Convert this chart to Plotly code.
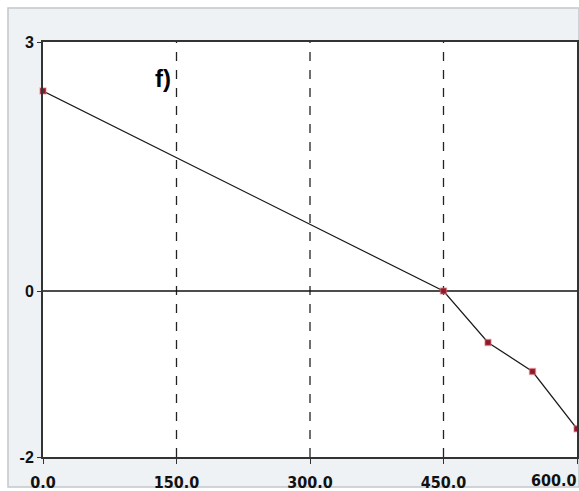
import plotly.graph_objects as go

x_vals = [0, 450, 500, 550, 600]
y_vals = [2.41, 0.0, -0.62, -0.97, -1.66]
x_ticks = [0, 150, 300, 450, 600]
x_tick_labels = ["0.0", "150.0", "300.0", "450.0", "600.0"]
y_ticks = [-2, 0, 3]
y_tick_labels = ["-2", "0", "3"]
grid_x = [150, 300, 450]

fig = go.Figure()

fig.add_trace(go.Scatter(
    x=x_vals, y=y_vals, mode="lines+markers",
    line=dict(color="#1a1a1a", width=1.2),
    marker=dict(symbol="square", size=6, color="#8b1a2a",
                line=dict(color="rgba(230,120,130,0.5)", width=1.5)),
    showlegend=False, hoverinfo="skip", cliponaxis=False))

PW, PH = 534, 415
XFONT = dict(family="Liberation Sans Narrow, DejaVu Sans Condensed, Arial Narrow, sans-serif",
             size=16, color="#111111")
shapes = []
# outer panel
shapes.append(dict(type="rect", xref="paper", yref="paper",
                   x0=-35/PW, x1=1 + 2/PW, y0=-30/PH, y1=1 + 34/PH,
                   fillcolor="#eef2f5", line=dict(color="#c4c8cc", width=1.5),
                   layer="below"))
shapes.append(dict(type="rect", xref="paper", yref="paper", x0=0, x1=1, y0=0, y1=1,
                   fillcolor="white", line=dict(width=0), layer="below"))
for gx in grid_x:
    shapes.append(dict(type="line", xref="x", yref="paper", x0=gx, x1=gx, y0=0, y1=1,
                       line=dict(color="#222222", width=1.3, dash="dash"), layer="below"))
shapes.append(dict(type="line", xref="paper", yref="y", x0=0, x1=1, y0=0, y1=0,
                   line=dict(color="#111111", width=1.5), layer="below"))

# last tick label is drawn flush with the right edge, as in the reference
tick_text = [f"<b>{t}</b>" for t in x_tick_labels[:-1]] + [""]
annotations = [
    dict(text="<b>f)</b>", xref="x", yref="y", x=135, y=2.56, showarrow=False,
         font=dict(family="Liberation Sans, Arial", size=24, color="black")),
    dict(text=f"<b>{x_tick_labels[-1]}</b>", xref="paper", yref="paper",
         x=1 + 2/PW, y=-23/PH, xanchor="right", yanchor="middle",
         showarrow=False, font=XFONT),
]

fig.update_layout(
    width=579, height=491,
    margin=dict(l=43, r=2, t=42, b=34, autoexpand=False),
    paper_bgcolor="white", plot_bgcolor="rgba(0,0,0,0)",
    shapes=shapes,
    annotations=annotations,
    xaxis=dict(range=[0, 600], tickvals=x_ticks, ticktext=tick_text,
               showgrid=False, zeroline=False, showline=True, linecolor="#333333", linewidth=2,
               mirror=True, ticks="outside", ticklen=5, tickcolor="#333333",
               ticklabelstandoff=5, tickfont=XFONT),
    yaxis=dict(range=[-2, 3], tickvals=y_ticks, ticktext=[f"<b>{t}</b>" for t in y_tick_labels],
               showgrid=False, zeroline=False, showline=True, linecolor="#333333", linewidth=2,
               mirror=True, ticks="outside", ticklen=4, tickcolor="#333333",
               tickfont=dict(family="Liberation Sans, Arial, sans-serif", size=16, color="#111111")),
)

fig.write_html(
    "out.html",
    config={"displayModeBar": False},
    post_script=("document.body.style.margin='0';"
                 "document.body.style.overflow='hidden';"
                 "document.documentElement.style.overflow='hidden';"),
)
